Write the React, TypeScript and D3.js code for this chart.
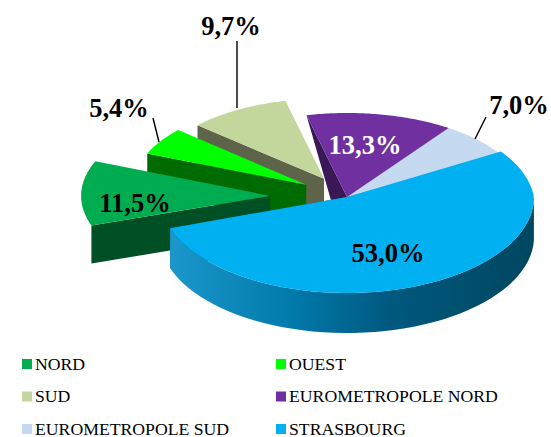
import React from 'react'
import * as d3 from 'd3'

const WIDTH = 551
const HEIGHT = 437

const categories = ['STRASBOURG', 'NORD', 'OUEST', 'SUD', 'EUROMETROPOLE NORD', 'EUROMETROPOLE SUD']
const shares = [53.0, 11.5, 5.4, 9.7, 13.3, 7.0]
const shareLabels = ['53,0%', '11,5%', '5,4%', '9,7%', '13,3%', '7,0%']
const topColors = ['#00b0f0', '#00ac50', '#00ff00', '#c3d69b', '#7030a0', '#c5d9f1']
const wallColors = ['#005f86', '#004f25', '#006b00', '#5e6449', '#3a1858', '#6f7f90']
const legendOrder = ['NORD', 'OUEST', 'SUD', 'EUROMETROPOLE NORD', 'EUROMETROPOLE SUD', 'STRASBOURG']

// rough look of each wedge: explode is along the mid angle, rx/ry are the ellipse radii
// taper pulls the rim in near the back right corner of the big slice
const wedgeLook = [
  { rx: 187, ry: 96, explode: 0, depth: 38, rimDepth: 40, apexShift: 0, taper: 0.05 },
  { rx: 189, ry: 91, explode: 0.407, depth: 38, rimDepth: 38, apexShift: 0, taper: 0 },
  { rx: 172, ry: 82, explode: 0.28, depth: 38, rimDepth: 38, apexShift: 0, taper: 0 },
  { rx: 170, ry: 80, explode: 0.265, depth: 38, rimDepth: 38, apexShift: 0, taper: 0 },
  { rx: 178, ry: 84, explode: 0, depth: 38, rimDepth: 0, apexShift: -6, taper: 0 },
  { rx: 178, ry: 84, explode: 0, depth: 38, rimDepth: 38, apexShift: 0, taper: 0 },
]

const labelSpots = [
  { x: 388, y: 262, fill: '#000' },
  { x: 135, y: 212, fill: '#000' },
  { x: 119, y: 117, fill: '#000' },
  { x: 231, y: 35, fill: '#000' },
  { x: 365, y: 154, fill: '#fff' },
  { x: 519, y: 114, fill: '#000' },
]

const leaders = [
  [[237, 41], [237, 108]],
  [[153, 118], [159, 142]],
  [[486, 117], [475, 139]],
]

const CX = 347
const CY = 197
const rad = (deg: number) => (deg * Math.PI) / 180

export default function App() {
  const pie = d3.pie<number>().sort(null).value(d => d).startAngle(rad(60)).endAngle(rad(420))
  const arcs = pie(shares)

  const slices = arcs.map((a, i) => {
    const look = wedgeLook[i]
    const mid = (a.startAngle + a.endAngle) / 2
    const ax = CX + Math.sin(mid) * look.rx * look.explode
    const ay = CY - Math.cos(mid) * look.ry * look.explode
    const pt = (t: number, dy = 0): [number, number] => {
      const shrink = 1 - look.taper * Math.max(0, (Math.PI / 2 - t) / rad(30))
      return [ax + Math.sin(t) * look.rx * shrink, ay - Math.cos(t) * look.ry * shrink + dy]
    }
    const rim = d3.range(0, 61).map(k => a.startAngle + ((a.endAngle - a.startAngle) * k) / 60)
    const line = d3.line()
    const top = line([[ax, ay], ...rim.map(t => pt(t))]) + 'Z'

    // rim wall only on the big slice, the others show nothing there
    const front = rim.filter(t => Math.cos(t) < 0)
    const rimWall = i === 0
      ? line([...front.map(t => pt(t)), ...front.slice().reverse().map(t => pt(t, look.rimDepth))]) + 'Z'
      : null

    // the cut face we can see is the one on the end of the wedge
    const cutAngle = i === 0 ? a.endAngle : a.startAngle
    const cut = line([
      pt(cutAngle),
      [ax, ay],
      [ax + look.apexShift, ay + look.depth],
      pt(cutAngle, look.rimDepth),
    ]) + 'Z'

    return { i, top, rimWall, cut }
  })

  // painted from the back of the pie to the front
  const paintOrder = [5, 4, 3, 2, 1, 0]
  const colorOf = d3.scaleOrdinal<string, string>().domain(categories).range(topColors)
  const legendCol = d3.scalePoint<number>().domain([0, 1]).range([22, 276])
  const legendRow = d3.scalePoint<number>().domain([0, 1, 2]).range([359, 424])

  return (
    <svg
      width={WIDTH}
      height={HEIGHT}
      style={{ position: 'absolute', left: 0, top: 0, background: '#fff' }}
      fontFamily="'Liberation Serif', serif"
    >
      <defs>
        <linearGradient id="stras-wall" gradientUnits="userSpaceOnUse" x1={170} x2={535} y1={0} y2={0}>
          <stop offset="0" stopColor="#1b97cc" />
          <stop offset="0.35" stopColor="#0078a8" />
          <stop offset="0.6" stopColor="#00597f" />
          <stop offset="1" stopColor="#00465f" />
        </linearGradient>
      </defs>

      {paintOrder.map(idx => {
        const s = slices[idx]
        return (
          <g key={categories[idx]}>
            <path d={s.cut} fill={wallColors[idx]} />
            {s.rimWall && <path d={s.rimWall} fill="url(#stras-wall)" />}
            <path d={s.top} fill={topColors[idx]} />
          </g>
        )
      })}

      {leaders.map((l, i) => (
        <path key={i} d={d3.line()(l as [number, number][]) as string} stroke="#000" strokeWidth={1.4} fill="none" />
      ))}

      {shareLabels.map((t, i) => (
        <text
          key={t}
          x={labelSpots[i].x}
          y={labelSpots[i].y}
          fill={labelSpots[i].fill}
          fontSize={26.5}
          fontWeight="bold"
          textAnchor="middle"
        >
          {t}
        </text>
      ))}

      {legendOrder.map((name, i) => {
        const x = legendCol(i % 2) as number
        const y = legendRow(Math.floor(i / 2)) as number
        return (
          <g key={name}>
            <rect x={x} y={y} width={10} height={10} fill={colorOf(name)} />
            <text x={x + 13} y={y + 10.5} fontSize={17.7} fill="#000">
              {name}
            </text>
          </g>
        )
      })}
    </svg>
  )
}
